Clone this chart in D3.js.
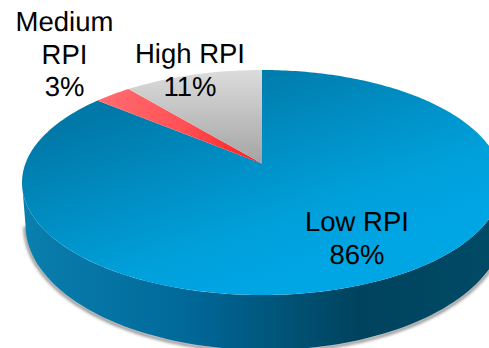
<!DOCTYPE html>
<html>
<head>
<meta charset="utf-8">
<script src="https://cdn.jsdelivr.net/npm/d3@7/dist/d3.min.js"></script>
<style>
html,body{margin:0;padding:0;background:#fff;overflow:hidden}
svg{display:block}
text{font-family:"Liberation Sans",Arial,sans-serif;font-size:27.5px;fill:#000;text-anchor:middle;text-rendering:geometricPrecision}
</style>
</head>
<body>
<svg id="chart" width="489" height="348"></svg>
<script>
// RPI share of the total
const categories = ["Low RPI", "Medium RPI", "High RPI"];
const shares = [86, 3, 11];
const labelLines = [["Low RPI", "86%"], ["Medium", "RPI", "3%"], ["High RPI", "11%"]];

const W = 489, H = 348;
const top3d = {cx: 262, cy: 182.5, rx: 240, ry: 112.5};
const base3d = {cx: 265, cy: 225, rx: 239.5, ry: 125};
const tilt = -0.169;            // shifts the pie centre away from the ellipse centre
const labelAnchors = [[357, 231], [64.5, 31], [190, 63]];
const lineGap = 32.5;

const svg = d3.select("#chart");
const defs = svg.append("defs");

function linear(id, x1, y1, x2, y2, stops) {
  const g = defs.append("linearGradient").attr("id", id)
    .attr("gradientUnits", "userSpaceOnUse")
    .attr("x1", x1).attr("y1", y1).attr("x2", x2).attr("y2", y2);
  stops.forEach(([o, c]) => g.append("stop").attr("offset", o).attr("stop-color", c));
}
linear("gLow", 230, 70, 300, 270, [[0, "#0079a8"], [0.75, "#00a0db"], [1, "#00a5e3"]]);
linear("gMed", 110, 90, 262, 163, [[0, "#ff6a6e"], [0.5, "#ff5055"], [1, "#ff1a1a"]]);
linear("gHigh", 262, 70, 262, 163, [[0, "#dcdcdc"], [1, "#a4a4a4"]]);
linear("gSide", 22, 0, 489, 0, [[0, "#0a7fae"], [0.35, "#00699a"], [0.72, "#00435e"], [1, "#004a66"]]);
const fills = ["url(#gLow)", "url(#gMed)", "url(#gHigh)"];

defs.append("filter").attr("id", "soft")
  .attr("x", "-5%").attr("y", "-5%").attr("width", "110%").attr("height", "110%")
  .append("feGaussianBlur").attr("stdDeviation", 1.5);

// A pie angle on the unit circle, projected on to the tilted ellipse
function project(angle) {
  const u = Math.sin(angle), v = -Math.cos(angle);
  const d = 1 + tilt * v;
  return [
    top3d.cx + top3d.rx * u * Math.sqrt(1 - tilt * tilt) / d,
    top3d.cy + top3d.ry * (v + tilt) / d
  ];
}
const apex = [top3d.cx, top3d.cy + top3d.ry * tilt];

const line = d3.line();
const pie = d3.pie().sort(null).value(d => d);
const arcs = pie(shares);

// Rim: front half of the upper ellipse joined to the front half of the lower one
const sweep = d3.range(0, 181, 2).map(d => d * Math.PI / 180);
const onEllipse = (e, a) => [e.cx + e.rx * Math.cos(a), e.cy + e.ry * Math.sin(a)];
const rim = sweep.map(a => onEllipse(top3d, a))
  .concat(sweep.slice().reverse().map(a => onEllipse(base3d, a)));

svg.append("path")
  .attr("d", line(sweep.map(a => onEllipse({...base3d, cy: base3d.cy + 1.5, rx: base3d.rx + 0.5}, a))))
  .attr("fill", "none").attr("stroke", "#8c8c8c").attr("stroke-width", 3)
  .attr("filter", "url(#soft)");
svg.append("path").attr("d", line(rim) + "Z").attr("fill", "url(#gSide)");

// Top face slices
svg.selectAll("path.slice").data(arcs).join("path")
  .attr("class", "slice")
  .attr("fill", (d, i) => fills[i])
  .attr("d", d => {
    const n = Math.max(8, Math.ceil((d.endAngle - d.startAngle) * 60));
    const pts = d3.range(n + 1).map(i => project(d.startAngle + (d.endAngle - d.startAngle) * i / n));
    return line([apex, ...pts]) + "Z";
  });

// Labels
labelLines.forEach((lines, i) => {
  const [x, y] = labelAnchors[i];
  const t = svg.append("text").attr("aria-label", categories[i]);
  lines.forEach((s, j) => t.append("tspan").attr("x", x).attr("y", y + j * lineGap).text(s));
});
</script>
</body>
</html>
